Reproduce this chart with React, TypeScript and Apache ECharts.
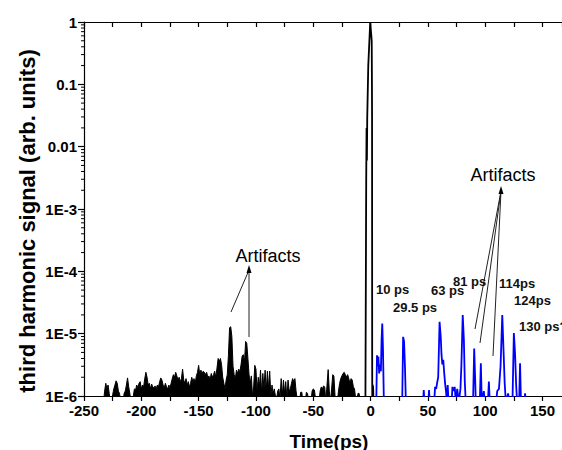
import React, { useEffect, useRef } from "react";
import * as echarts from "echarts";

// ---- Data (signal values are in units of 1e-6, arb. units) ----
const UNIT = 1e-6;

const noiseTime = [
  -233, -232, -231, -230, -229, -228, -227, -226, -225, -224, -223, -222, -221, -220, -219, -218, -217, -216, -215, -214,
  -213, -212, -211, -210, -209, -208, -207, -206, -205, -204, -203, -202, -201, -200, -199, -198, -197, -196, -195, -194,
  -193, -192, -191, -190, -189, -188, -187, -186, -185, -184, -183, -182, -181, -180, -179, -178, -177, -176, -175, -174,
  -173, -172, -171, -170, -169, -168, -167, -166, -165, -164, -163, -162, -161, -160, -159, -158, -157, -156, -155, -154,
  -153, -152, -151, -150, -149, -148, -147, -146, -145, -144, -143, -142, -141, -140, -139, -138, -137, -136, -135, -134,
  -133, -132, -131, -130, -129, -128, -127, -126, -125, -124, -123, -122, -121, -120, -119, -118, -117, -116, -115, -114,
  -113, -112, -111, -110, -109, -108, -107, -106, -105, -104, -103, -102, -101, -100, -99, -98, -97, -96, -95, -94,
  -93, -92, -91, -90, -89, -88, -87, -86, -85, -84, -83, -82, -81, -80, -79, -78, -77, -76, -75, -74,
  -73, -72, -71, -70, -69, -68, -67, -66, -65, -64, -63, -62, -61, -60, -59, -58, -57, -56, -55, -54,
  -53, -52, -51, -50, -49, -48, -47, -46, -45, -44, -43, -42, -41, -40, -39, -38, -37, -36, -35, -34,
  -33, -32, -31, -30, -29, -28, -27, -26, -25, -24, -23, -22, -21, -20, -19, -18, -17, -16, -15, -14,
  -13, -12, -11, -10, -9, -8, -7, -6, -5, -4.5,
];
const noiseSignal = [
  0.8, 1.2, 1.6, 1.3, 1.5, 1.1, 0.8, 0.8, 1.05, 1.3, 1.5, 1.75, 1.6, 1.2, 1.1, 0.8, 1.0, 0.8, 1.1, 1.2,
  1.5, 1.95, 1.4, 1.1, 0.8, 0.8, 1.0, 1.3, 1.25, 1.5, 1.35, 1.6, 1.7, 1.3, 1.5, 1.4, 1.9, 2.4, 2.0, 1.5,
  1.6, 1.3, 1.55, 1.4, 1.35, 1.45, 1.3, 1.5, 1.4, 1.7, 1.95, 1.8, 1.5, 1.35, 1.6, 1.4, 1.3, 1.5, 1.35, 1.6,
  1.9, 2.2, 2.0, 2.4, 2.1, 1.8, 2.0, 1.7, 1.9, 2.7, 1.8, 1.6, 1.9, 1.5, 1.7, 1.4, 1.6, 2.0, 1.7, 1.9,
  1.6, 2.1, 2.4, 3.1, 2.2, 2.6, 2.3, 2.5, 2.4, 2.2, 2.4, 2.0, 2.1, 1.8, 2.3, 2.0, 2.2, 2.5, 2.0, 2.8,
  4.0, 3.6, 4.0, 3.2, 2.0, 1.6, 1.3, 1.8, 2.2, 4.5, 12.5, 12.9, 9.0, 3.0, 2.2, 1.9, 2.6, 2.3, 2.7, 2.4,
  3.2, 4.4, 4.6, 3.5, 7.5, 7.0, 4.0, 2.2, 1.6, 2.1, 1.0, 1.4, 3.1, 2.7, 1.2, 2.0, 1.4, 2.6, 1.1, 2.3,
  1.3, 2.6, 1.2, 2.5, 1.3, 2.5, 1.0, 1.5, 1.1, 1.3, 1.0, 0.9, 1.2, 1.3, 0.9, 1.9, 1.0, 1.8, 1.1, 1.7,
  0.9, 1.8, 1.2, 1.3, 1.6, 1.9, 1.7, 1.9, 1.2, 0.9, 0.8, 0.8, 1.15, 1.15, 0.8, 0.8, 0.8, 1.15, 1.1, 0.8,
  0.8, 0.8, 1.2, 1.3, 1.25, 0.9, 0.8, 0.8, 0.8, 1.2, 1.4, 1.3, 1.45, 1.4, 0.8, 1.5, 2.65, 1.2, 0.8, 1.3,
  2.2, 2.1, 1.0, 0.8, 0.8, 1.2, 1.6, 1.9, 2.1, 2.3, 2.4, 2.2, 2.0, 2.2, 1.9, 1.6, 1.9, 1.8, 1.4, 1.3,
  0.9, 0.8, 1.1, 1.1, 0.8, 0.8, 0.8, 0.9, 0.8, 0.8,
];

const peakTime = [-4.5, -3.9, -3.8, -3.5, -3.2, -2.9, -2.0, -0.3, 1.0, 1.2, 1.3, 1.4, 1.5, 1.8, 2.2, 2.6];
const peakSignal = [0.8, 0.8, 3000, 20000, 6000, 30000, 200000, 1000000, 500000, 100000, 30000, 5, 0.8, 1.5, 1.4, 0.8];

const blueTime = [
  5.0, 5.6, 6.2, 6.8, 7.5, 8.3, 9.0, 9.6, 10.2, 10.8, 11.6,
  27.6, 28.4, 29.2, 30.0, 30.8,
  45.8, 46.4, 47.0, 50.4, 51.0, 51.6,
  55.5, 56.3, 57.2, 58.0, 59.0, 60.2, 61.2, 61.9, 62.6, 63.4, 64.2, 65.0, 65.8, 66.6, 67.3, 68.0,
  70.8, 71.4, 72.4, 73.4, 74.4, 75.6, 77.0, 78.4, 79.2, 80.4, 81.4, 82.2, 83.0,
  89.4, 90.4, 91.2, 91.8, 95.3, 96.2, 97.0, 98.8, 99.6, 102.4, 103.2, 104.0,
  109.5, 110.5, 112.0, 113.4, 114.9, 115.9, 117.0, 118.0, 120.0, 121.0,
  123.8, 125.0, 126.0, 127.0, 127.8, 129.6, 130.4, 131.2, 134.2, 134.8, 135.4,
];
const blueSignal = [
  0.8, 4.5, 3.0, 4.3, 2.3, 3.2, 2.5, 8.0, 14.6, 6.0, 0.8,
  0.8, 8.9, 7.5, 3.0, 0.8,
  0.8, 1.25, 0.8, 0.8, 1.25, 0.8,
  0.8, 1.4, 1.3, 1.6, 2.0, 15.5, 9.0, 4.6, 3.2, 3.8, 2.4, 1.6, 1.2, 0.8, 1.5, 0.8,
  0.8, 1.4, 1.2, 1.4, 0.8, 1.3, 0.8, 1.3, 3.0, 19.9, 8.0, 1.7, 0.8,
  0.8, 5.8, 2.0, 0.8, 0.8, 3.35, 0.8, 1.2, 0.8, 0.8, 1.7, 0.8,
  0.8, 1.2, 1.3, 3.0, 19.9, 6.0, 1.6, 0.8, 1.1, 0.8,
  0.8, 10.2, 5.0, 1.5, 0.8, 0.8, 3.35, 0.8, 0.8, 1.1, 0.8,
];

const xTickLabels = ["-250", "-200", "-150", "-100", "-50", "0", "50", "100", "150"];
const yTickLabels = ["1E-6", "1E-5", "1E-4", "1E-3", "0.01", "0.1", "1"];

const peakLabels = ["10 ps", "29.5 ps", "63 ps", "81 ps", "114ps", "124ps", "130 ps?"];
const peakLabelPos = [
  [376, 289], [393, 307], [431, 290], [453, 281], [499, 283], [514, 300], [519, 326],
];

const FONT = "'Liberation Sans', Arial, sans-serif";

export default function App() {
  const ref = useRef<HTMLDivElement>(null);

  useEffect(() => {
    if (!ref.current) return;
    const chart = echarts.init(ref.current, undefined, { renderer: "svg" });

    const pairs = (t: number[], v: number[]) => t.map((x, i) => [x, v[i] * UNIT]);

    const minorTicks: number[][] = [];
    for (let e = -6; e < 0; e++) {
      for (let m = 2; m <= 9; m++) minorTicks.push([-250, m * Math.pow(10, e)]);
    }

    const labelFmtX = (v: number) => {
      const s = String(Math.round(v));
      return xTickLabels.indexOf(s) >= 0 && Math.abs(v - Math.round(v)) < 1e-9 ? s : "";
    };

    const graphics: any[] = [
      {
        type: "text",
        x: 27,
        y: 221,
        rotation: Math.PI / 2,
        style: {
          text: "third harmonic signal (arb. units)",
          font: `bold 22px ${FONT}`,
          fill: "#000",
          align: "center",
          verticalAlign: "middle",
        },
      },
      {
        type: "text",
        x: 329,
        y: 441,
        style: {
          text: "Time(ps)",
          font: `bold 19px ${FONT}`,
          fill: "#000",
          align: "center",
          verticalAlign: "middle",
        },
      },
      {
        type: "text",
        x: 268,
        y: 256,
        style: { text: "Artifacts", font: `18px ${FONT}`, fill: "#000", align: "center", verticalAlign: "middle" },
      },
      {
        type: "text",
        x: 503,
        y: 175,
        style: { text: "Artifacts", font: `18px ${FONT}`, fill: "#000", align: "center", verticalAlign: "middle" },
      },
      // left arrows
      { type: "line", shape: { x1: 231, y1: 312, x2: 249, y2: 270 }, style: { stroke: "#222", lineWidth: 1 } },
      { type: "line", shape: { x1: 249, y1: 337, x2: 249, y2: 270 }, style: { stroke: "#222", lineWidth: 1 } },
      { type: "polygon", shape: { points: [[249, 265], [246.5, 273], [251.5, 273]] }, style: { fill: "#000" } },
      // right arrows
      { type: "line", shape: { x1: 475, y1: 329, x2: 501, y2: 191 }, style: { stroke: "#222", lineWidth: 1 } },
      { type: "line", shape: { x1: 480, y1: 343, x2: 501, y2: 191 }, style: { stroke: "#222", lineWidth: 1 } },
      { type: "line", shape: { x1: 493, y1: 356, x2: 501, y2: 191 }, style: { stroke: "#222", lineWidth: 1 } },
      { type: "polygon", shape: { points: [[501, 186], [498.5, 194], [503.5, 194]] }, style: { fill: "#000" } },
    ];
    peakLabels.forEach((t, i) => {
      graphics.push({
        type: "text",
        x: peakLabelPos[i][0],
        y: peakLabelPos[i][1],
        style: { text: t, font: `bold 13px ${FONT}`, fill: "#111", align: "left", verticalAlign: "middle" },
      });
    });

    chart.setOption({
      animation: false,
      backgroundColor: "#fff",
      grid: { left: 84, right: 0, top: 22, bottom: 54, containLabel: false },
      xAxis: [
        {
          type: "value",
          position: "bottom",
          min: -250,
          max: 167,
          interval: 25,
          axisLine: { show: true, onZero: false, lineStyle: { color: "#000", width: 1.2 } },
          axisTick: { show: true, inside: false, length: 5, lineStyle: { color: "#000", width: 1.2 } },
          axisLabel: {
            show: true,
            margin: 7,
            color: "#000",
            fontWeight: "bold",
            fontSize: 15,
            fontFamily: FONT,
            formatter: labelFmtX,
            showMaxLabel: false,
          },
          splitLine: { show: false },
        },
        {
          type: "value",
          position: "top",
          min: -250,
          max: 167,
          interval: 25,
          axisLine: { show: true, onZero: false, lineStyle: { color: "#000", width: 1.2 } },
          axisTick: { show: true, inside: true, length: 5, lineStyle: { color: "#000", width: 1.2 } },
          axisLabel: { show: false },
          splitLine: { show: false },
        },
      ],
      yAxis: {
        type: "log",
        logBase: 10,
        min: 1e-6,
        max: 1,
        splitNumber: 6,
        axisLine: { show: true, onZero: false, lineStyle: { color: "#000", width: 1.2 } },
        axisTick: { show: true, inside: false, length: 6, lineStyle: { color: "#000", width: 1.2 } },
        axisLabel: {
          margin: 7,
          color: "#000",
          fontWeight: "bold",
          fontSize: 15,
          fontFamily: FONT,
          formatter: (v: number) => {
            const e = Math.round(Math.log10(v));
            return yTickLabels[e + 6] ?? "";
          },
        },
        splitLine: { show: false },
      },
      series: [
        {
          type: "line",
          name: "noise",
          data: pairs(noiseTime, noiseSignal),
          showSymbol: false,
          symbol: "none",
          lineStyle: { color: "#000", width: 1 },
          areaStyle: { color: "#000", opacity: 1 },
          clip: true,
          z: 3,
        },
        {
          type: "line",
          name: "peak",
          data: pairs(peakTime, peakSignal),
          showSymbol: false,
          symbol: "none",
          lineStyle: { color: "#000", width: 1.8 },
          clip: true,
          z: 3,
        },
        {
          type: "line",
          name: "blue",
          data: pairs(blueTime, blueSignal),
          showSymbol: false,
          symbol: "none",
          lineStyle: { color: "#0000ff", width: 1.8 },
          clip: true,
          z: 3,
        },
        {
          type: "custom",
          name: "minorTicks",
          silent: true,
          clip: false,
          data: minorTicks,
          renderItem: (_p: any, api: any) => {
            const pt = api.coord([api.value(0), api.value(1)]);
            return {
              type: "line",
              shape: { x1: pt[0] - 3, y1: pt[1], x2: pt[0], y2: pt[1] },
              style: { stroke: "#000", lineWidth: 1 },
            };
          },
          z: 4,
        },
      ],
      graphic: graphics,
    });

    return () => chart.dispose();
  }, []);

  return (
    <div
      ref={ref}
      style={{ position: "absolute", left: 0, top: 0, width: 562, height: 450, background: "#fff" }}
    />
  );
}
